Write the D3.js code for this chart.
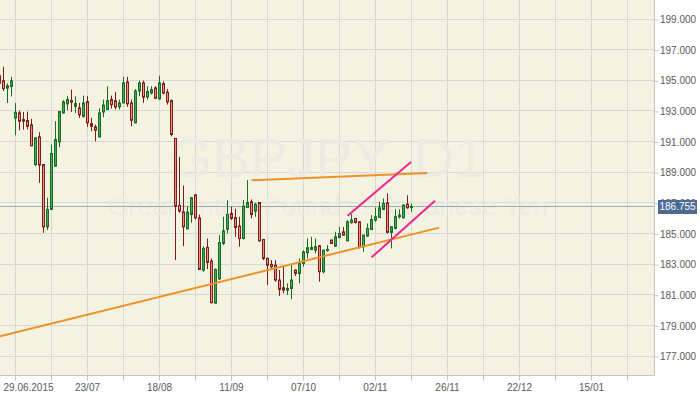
<!DOCTYPE html>
<html><head><meta charset="utf-8">
<script src="https://cdn.jsdelivr.net/npm/d3@7"></script>
<style>html,body{margin:0;padding:0;background:#fff;}svg{display:block;font-family:"Liberation Sans",Arial,sans-serif;}</style>
</head><body><svg id="c" width="700" height="394"></svg>
<script>
const dates = [
"2015-06-23","2015-06-24","2015-06-25","2015-06-26","2015-06-29","2015-06-30",
"2015-07-01","2015-07-02","2015-07-03","2015-07-06","2015-07-07","2015-07-08","2015-07-09","2015-07-10","2015-07-13","2015-07-14","2015-07-15","2015-07-16","2015-07-17","2015-07-20","2015-07-21","2015-07-22","2015-07-23","2015-07-24","2015-07-27","2015-07-28","2015-07-29","2015-07-30","2015-07-31",
"2015-08-03","2015-08-04","2015-08-05","2015-08-06","2015-08-07","2015-08-10","2015-08-11","2015-08-12","2015-08-13","2015-08-14","2015-08-17","2015-08-18","2015-08-19","2015-08-20","2015-08-21","2015-08-24","2015-08-25","2015-08-26","2015-08-27","2015-08-28","2015-08-31",
"2015-09-01","2015-09-02","2015-09-03","2015-09-04","2015-09-07","2015-09-08","2015-09-09","2015-09-10","2015-09-11","2015-09-14","2015-09-15","2015-09-16","2015-09-17","2015-09-18","2015-09-21","2015-09-22","2015-09-23","2015-09-24","2015-09-25","2015-09-28","2015-09-29","2015-09-30",
"2015-10-01","2015-10-02","2015-10-05","2015-10-06","2015-10-07","2015-10-08","2015-10-09","2015-10-12","2015-10-13","2015-10-14","2015-10-15","2015-10-16","2015-10-19","2015-10-20","2015-10-21","2015-10-22","2015-10-23","2015-10-26","2015-10-27","2015-10-28","2015-10-29","2015-10-30",
"2015-11-02","2015-11-03","2015-11-04","2015-11-05","2015-11-06","2015-11-09","2015-11-10","2015-11-11","2015-11-12","2015-11-13"];

const open = [195.3,194.97,194.49,194.6,192.54,192.87,192.43,192.37,192.09,189.5,191.3,189.5,185.43,186.57,189.39,190.98,192.87,193.46,193.67,193.3,193.2,192.65,193.61,192.17,191.96,191.3,192.93,193.09,193.74,193.67,193.26,193.52,194.89,193.52,192.22,194.3,194.83,193.91,194.17,194.5,193.78,194.78,194.22,193.67,191.2,186.83,186.41,185.3,186.24,187.52,186.02,182.61,184.09,183.2,180.45,182.04,184.35,185.28,186.3,186.04,185.48,184.67,186.69,187.07,186.46,187.02,184.61,183.37,182.98,182.93,181.96,181.46,181.3,181.41,182.61,182.39,183.04,183.74,183.96,183.91,184.2,182.5,183.91,184.57,184.17,184.74,185.11,184.52,185.7,185.98,185.76,184.13,184.83,185.26,185.87,186.04,186.57,187.0,185.07,185.33,186.09,186.02,186.91,186.72];
const high = [195.45,195.88,194.8,195.23,193.52,193.02,192.93,192.96,192.48,191.28,191.61,189.52,187.33,190.8,192.33,192.98,193.7,193.96,194.39,193.96,193.52,194.0,193.96,192.54,192.11,193.17,193.74,194.61,194.0,194.24,193.74,195.22,195.22,193.74,194.43,194.98,194.98,194.61,194.61,194.61,195.3,194.93,194.43,193.74,191.24,190.0,188.13,186.78,187.35,187.54,186.24,184.17,184.67,183.37,182.72,184.89,186.09,187.17,186.74,186.63,186.09,187.17,188.48,187.22,187.0,187.04,184.63,183.43,183.26,183.26,182.61,182.83,181.74,182.93,182.65,183.37,183.91,184.67,184.78,184.67,184.24,183.93,184.24,184.59,185.11,185.43,185.43,185.87,186.26,186.0,185.78,184.91,185.65,186.2,186.7,187.07,187.28,187.61,185.44,186.57,186.57,186.91,187.5,186.96];
const low = [194.7,194.3,193.52,193.95,191.41,191.74,191.78,191.78,190.7,189.39,188.3,185.04,185.22,186.55,189.37,190.63,192.83,193.04,192.93,192.87,192.54,192.54,191.96,191.67,191.02,191.28,192.59,193.07,193.15,193.09,193.09,193.5,193.26,192.0,192.2,193.96,193.52,193.74,194.07,193.78,193.74,194.07,193.41,191.35,183.26,186.35,184.17,185.28,185.7,185.91,182.63,182.5,182.67,180.43,180.43,181.96,184.24,185.0,185.87,184.78,184.13,184.61,186.67,185.98,186.09,184.46,183.26,181.63,182.61,181.85,180.91,181.09,180.98,180.7,182.22,181.74,182.83,183.37,183.91,183.7,181.85,182.39,183.8,184.33,184.13,184.67,184.87,184.5,185.65,185.65,184.02,183.8,184.78,185.22,185.76,186.02,186.52,185.0,184.02,185.26,185.98,185.98,186.63,186.41];
const close = [194.8,194.46,194.64,194.96,192.91,192.33,192.33,192.0,190.72,191.24,189.46,185.43,186.57,190.22,191.13,192.96,193.59,193.74,193.57,193.48,192.74,193.52,192.22,192.0,191.74,192.87,193.39,193.67,193.41,193.26,193.52,194.83,193.46,192.39,194.3,194.83,193.89,194.26,194.39,193.83,194.83,194.17,193.59,191.46,186.78,186.46,185.43,186.39,187.33,186.02,182.65,184.02,183.11,180.48,182.65,184.41,185.17,186.24,185.98,185.39,184.67,186.78,187.02,186.24,186.91,184.52,183.37,182.93,182.83,181.96,181.35,181.3,181.41,181.96,182.39,183.04,183.8,184.07,184.09,184.13,182.5,183.91,183.96,184.35,184.78,185.0,184.89,185.76,185.87,185.72,184.13,184.89,185.33,185.91,186.09,186.67,186.96,185.07,185.44,186.09,186.2,186.85,186.67,186.755];

const xTickLabels = ["29.06.2015","23/07","18/08","11/09","07/10","02/11","26/11","22/12","15/01"];
const xTickIndex = [4,22,40,58,76,94,112,130,148];
const xGridIndex = [4,13,22,31,40,49,58,67,76,85,94,103,112,121,130,139,148,157];
const yTicks = [177,179,181,183,185,187,189,191,193,195,197,199];
const currentPrice = 186.755;
const orangeLong = [[0.1,178.29],[109.9,185.38]];
const orangeShort = [[63.0,188.47],[106.9,188.95]];
const pinkUpper = [[87.0,186.16],[102.85,189.67]];
const pinkLower = [[93.0,183.44],[108.85,187.14]];
const titleText = "GBPJPY, D1";
const subtitleText = "Great Britain Pound vs Japanese Yen";

const W = 654, H = 375;
const svg = d3.select("#c");
const x = d3.scaleLinear().domain([0.1, 163.6]).range([0, W]);
const y = d3.scaleLinear().domain([177, 199]).range([356, 19]);
const px = v => Math.floor(v) + 0.5;

svg.append("rect").attr("x",0).attr("y",0).attr("width",W).attr("height",H).attr("fill","#f4f3e1");

const grid = svg.append("g").attr("stroke","#d8d8d2").attr("stroke-width",1);
grid.selectAll("line.h").data(yTicks).join("line").attr("class","h")
  .attr("x1",0).attr("x2",W).attr("y1",d=>px(y(d))).attr("y2",d=>px(y(d)));
grid.selectAll("line.v").data(xGridIndex).join("line").attr("class","v")
  .attr("y1",0).attr("y2",H).attr("x1",d=>px(x(d))).attr("x2",d=>px(x(d)));

svg.append("text").attr("x",W/2).attr("y",177).attr("text-anchor","middle")
  .attr("font-size",56).attr("fill","#ebebe2").attr("fill-opacity",0.9).text(titleText);
svg.append("text").attr("x",W/2+1).attr("y",215).attr("text-anchor","middle")
  .attr("font-size",26.5).attr("fill","#ebebe2").attr("fill-opacity",0.9).text(subtitleText);

svg.append("line").attr("x1",0).attr("x2",W).attr("y1",px(y(currentPrice))).attr("y2",px(y(currentPrice)))
  .attr("stroke","#9aabba").attr("stroke-width",1);

const bars = dates.map((d,i)=>({d,i,o:open[i],h:high[i],l:low[i],c:close[i]}));
const cg = svg.append("g");
const up = d => d.c >= d.o;
cg.selectAll("line.w").data(bars).join("line").attr("class","w")
  .attr("x1",d=>px(x(d.i))).attr("x2",d=>px(x(d.i)))
  .attr("y1",d=>y(d.h)).attr("y2",d=>y(d.l))
  .attr("stroke",d=>up(d)?"#1b6a25":"#7d1d1a").attr("stroke-width",1);
cg.selectAll("rect.b").data(bars).join("rect").attr("class","b")
  .attr("x",d=>px(x(d.i))-1).attr("width",2)
  .attr("y",d=>y(Math.max(d.o,d.c)))
  .attr("height",d=>Math.max(1,Math.abs(y(d.o)-y(d.c))))
  .attr("fill",d=>up(d)?"#3fae4f":"#f08e84")
  .attr("stroke",d=>up(d)?"#1b6a25":"#7d1d1a").attr("stroke-width",1);

const tl = [[orangeLong,"#f0902a"],[orangeShort,"#f0902a"],[pinkUpper,"#f2258c"],[pinkLower,"#f2258c"]];
const lineGen = d3.line().x(d=>x(d[0])).y(d=>y(d[1]));
svg.selectAll("path.tl").data(tl).join("path").attr("class","tl")
  .attr("d",d=>lineGen(d[0])).attr("stroke",d=>d[1]).attr("stroke-width",2).attr("fill","none");

// frame
svg.append("line").attr("x1",W+0.5).attr("x2",W+0.5).attr("y1",0).attr("y2",H+0.5).attr("stroke","#c4c4c4");
svg.append("line").attr("x1",0).attr("x2",W+0.5).attr("y1",H+0.5).attr("y2",H+0.5).attr("stroke","#c4c4c4");

const yAxis = d3.axisRight(y).tickValues(yTicks).tickFormat(d3.format(".3f")).tickSize(4).tickPadding(1.5);
const ya = svg.append("g").attr("transform",`translate(${W+0.5},0.5)`).call(yAxis);
ya.select(".domain").remove();
ya.selectAll(".tick line").attr("stroke","#c4c4c4");
ya.selectAll(".tick text").attr("fill","#5a5a5a").attr("font-size",10).attr("font-family","Liberation Sans, Arial, sans-serif");

const labelMap = new Map(xTickIndex.map((v,i)=>[v,xTickLabels[i]]));
const xAxis = d3.axisBottom(x).tickValues(xGridIndex).tickFormat(d=>labelMap.get(d)||"").tickSize(5).tickPadding(3);
const xa = svg.append("g").attr("transform",`translate(0.5,${H+0.5})`).call(xAxis);
xa.select(".domain").remove();
xa.selectAll(".tick").attr("transform",d=>`translate(${px(x(d))-0.5},0)`);
xa.selectAll(".tick line").attr("stroke","#c4c4c4");
xa.selectAll(".tick text").attr("fill","#5a5a5a").attr("font-size",10).attr("font-family","Liberation Sans, Arial, sans-serif");
xa.selectAll(".tick text").filter(d=>d===xTickIndex[0]).attr("text-anchor","start").attr("x",3-px(x(xTickIndex[0]))+0.5);

const cy = y(currentPrice);
svg.append("rect").attr("x",658).attr("y",Math.round(cy)-7).attr("width",39).attr("height",14).attr("fill","#4b6b94");
svg.append("text").attr("x",659.5).attr("y",cy).attr("dy","0.35em").attr("fill","#ffffff").attr("font-size",10).text(d3.format(".3f")(currentPrice));
</script></body></html>
